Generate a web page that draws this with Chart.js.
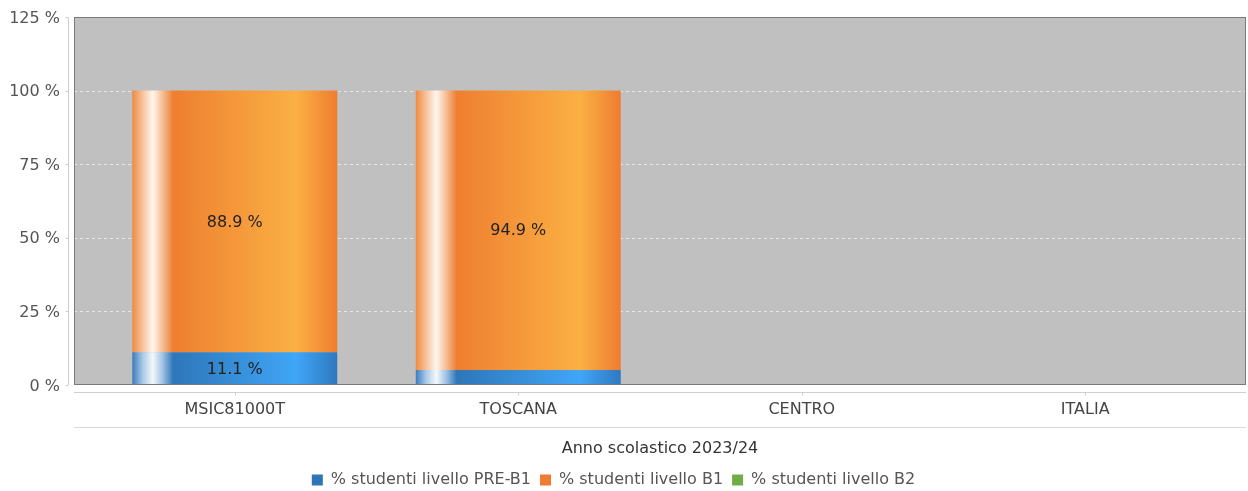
<!DOCTYPE html>
<html>
<head>
<meta charset="utf-8">
<script src="https://cdn.jsdelivr.net/npm/chart.js@4"></script>
<style>
  html, body { margin: 0; padding: 0; background: #fff; }
  #wrap { width: 1248px; height: 491px; }
</style>
</head>
<body>
<div id="wrap"><canvas id="myChart"></canvas></div>
<script>
// Chart data
const categories = ['MSIC81000T', 'TOSCANA', 'CENTRO', 'ITALIA'];
const preB1 = [11.1, 5.1, null, null];
const b1 = [88.9, 94.9, null, null];
const b2 = [null, null, null, null];
const seriesNames = ['% studenti livello PRE-B1', '% studenti livello B1', '% studenti livello B2'];
const yTicks = [0, 25, 50, 75, 100, 125];
const xTitle = 'Anno scolastico 2023/24';

const FONT = '"DejaVu Sans", sans-serif';
const catPct = 0.723;
const plotExt = 19; // gray plot area reaches a bit past the outer categories
const legendColors = ['#2e75b6', '#ed7d31', '#70ad47'];

// horizontal "cylinder" shading for each series
const orangeStops = [[0, '#ef8a42'], [0.05, '#f7c29a'], [0.1, '#fff6ee'], [0.15, '#f6bb92'], [0.2, '#ee7f30'], [0.8, '#fbb044'], [1, '#ee7d30']];
const blueStops = [[0, '#3a7cbd'], [0.05, '#a8c8e6'], [0.1, '#f4f8fc'], [0.15, '#9cc0e2'], [0.2, '#2e76b9'], [0.8, '#40a6f7'], [1, '#2f78c0']];
const greenStops = [[0, '#78b050'], [0.1, '#f4faf0'], [0.2, '#70ad47'], [0.8, '#98d070'], [1, '#70ad47']];

function barFill(stops, base) {
    return function (c) {
        const chart = c.chart;
        if (c.type !== 'data' || !chart.chartArea) return base;
        const sx = chart.scales.x;
        const w = (sx.width / categories.length) * catPct;
        const cx = sx.getPixelForValue(c.dataIndex);
        const g = chart.ctx.createLinearGradient(cx - w / 2, 0, cx + w / 2, 0);
        stops.forEach(s => g.addColorStop(s[0], s[1]));
        return g;
    };
}

// gray plot background, dashed grid, frame and axis lines
const frame = {
    id: 'frame',
    beforeDatasetsDraw(chart) {
        const { ctx, chartArea: a, scales: { y } } = chart;
        const l = a.left - plotExt, r = a.right + plotExt;
        ctx.save();
        ctx.fillStyle = '#c0c0c0';
        ctx.fillRect(l, a.top, r - l, a.bottom - a.top);
        ctx.strokeStyle = '#e6e6e6';
        ctx.lineWidth = 1;
        ctx.setLineDash([3, 3]);
        yTicks.forEach(t => {
            if (t === 0 || t === 125) return;
            const py = Math.round(y.getPixelForValue(t)) + 0.5;
            ctx.beginPath(); ctx.moveTo(l, py); ctx.lineTo(r, py); ctx.stroke();
        });
        ctx.restore();
    },
    afterDatasetsDraw(chart) {
        const { ctx, chartArea: a, scales: { x, y } } = chart;
        const l = a.left - plotExt, r = a.right + plotExt;
        ctx.save();
        ctx.strokeStyle = '#7a7a7a';
        ctx.lineWidth = 1;
        ctx.strokeRect(l + 0.5, a.top + 0.5, r - l - 1, a.bottom - a.top - 1);

        // y axis line + ticks
        ctx.strokeStyle = '#cfcfcf';
        const ax = l - 6 + 0.5;
        ctx.beginPath(); ctx.moveTo(ax, a.top); ctx.lineTo(ax, a.bottom); ctx.stroke();
        yTicks.forEach(t => {
            const py = Math.round(y.getPixelForValue(t)) + 0.5;
            ctx.beginPath(); ctx.moveTo(ax - 3, py); ctx.lineTo(ax, py); ctx.stroke();
        });

        // x axis line + ticks
        const ay = a.bottom + 7 + 0.5;
        ctx.beginPath(); ctx.moveTo(l, ay); ctx.lineTo(r, ay); ctx.stroke();
        categories.forEach((c, i) => {
            const px = Math.round(x.getPixelForValue(i)) + 0.5;
            ctx.beginPath(); ctx.moveTo(px, ay); ctx.lineTo(px, ay + 3); ctx.stroke();
        });
        // line under category labels
        ctx.strokeStyle = '#d8d8d8';
        const by = a.bottom + 42 + 0.5;
        ctx.beginPath(); ctx.moveTo(l, by); ctx.lineTo(r, by); ctx.stroke();
        ctx.restore();
    }
};

// value labels inside the bar segments
const valueLabels = {
    id: 'valueLabels',
    afterDatasetsDraw(chart) {
        const ctx = chart.ctx;
        ctx.save();
        ctx.font = '16px ' + FONT;
        ctx.fillStyle = '#222';
        ctx.textAlign = 'center';
        ctx.textBaseline = 'middle';
        chart.data.datasets.forEach((ds, i) => {
            const meta = chart.getDatasetMeta(i);
            meta.data.forEach((bar, j) => {
                const v = ds.data[j];
                if (v == null || v < 8) return;
                const p = bar.getCenterPoint();
                ctx.fillText(v.toFixed(1) + ' %', p.x, p.y + 1);
            });
        });
        ctx.restore();
    }
};

const ctx = document.getElementById('myChart').getContext('2d');

const chart = new Chart(ctx, {
    type: 'bar',
    data: {
        labels: categories,
        datasets: [
            { label: seriesNames[0], data: preB1, backgroundColor: barFill(blueStops, legendColors[0]), borderWidth: 0 },
            { label: seriesNames[1], data: b1, backgroundColor: barFill(orangeStops, legendColors[1]), borderWidth: 0 },
            { label: seriesNames[2], data: b2, backgroundColor: barFill(greenStops, legendColors[2]), borderWidth: 0 }
        ]
    },
    options: {
        responsive: true,
        maintainAspectRatio: false,
        animation: false,
        layout: { padding: { top: 17, right: 21, bottom: -7, left: 0 } },
        datasets: { bar: { barPercentage: 1, categoryPercentage: catPct } },
        scales: {
            x: {
                stacked: true,
                afterFit: s => { s.height = 78; },
                grid: { display: false, drawTicks: false },
                border: { display: false },
                ticks: { font: { family: FONT, size: 16 }, color: '#444', padding: 15 },
                title: { display: true, text: xTitle, font: { family: FONT, size: 16 }, color: '#333', padding: { top: 0, bottom: 4.4 } }
            },
            y: {
                stacked: true,
                min: 0,
                max: 125,
                afterFit: s => { s.width = 93; },
                afterBuildTicks: s => { s.ticks = yTicks.map(v => ({ value: v })); },
                // grid hidden, tick length only used to push labels left
                grid: { display: false, drawTicks: true, tickLength: 33 },
                border: { display: false },
                ticks: { font: { family: FONT, size: 16 }, color: '#555', padding: 0, labelOffset: 1.5, callback: v => v + ' %' }
            }
        },
        plugins: {
            legend: {
                position: 'bottom',
                labels: {
                    boxWidth: 11, boxHeight: 11, padding: 9,
                    font: { family: FONT, size: 16 }, color: '#555',
                    generateLabels: c => Chart.defaults.plugins.legend.labels.generateLabels(c).map((it, i) => {
                        it.fillStyle = legendColors[i];
                        it.strokeStyle = legendColors[i];
                        it.lineWidth = 0;
                        return it;
                    })
                }
            },
            tooltip: { enabled: false }
        }
    },
    plugins: [frame, valueLabels]
});
</script>
</body>
</html>
